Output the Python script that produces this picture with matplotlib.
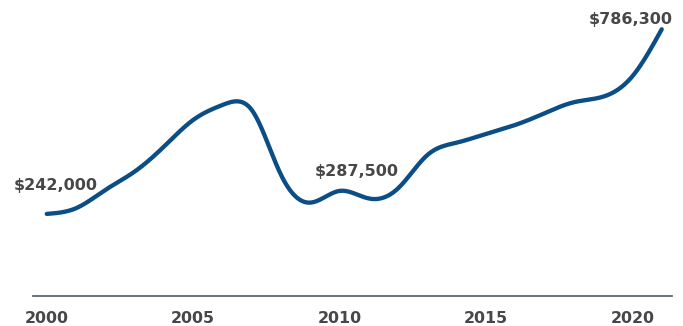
import numpy as np
import matplotlib
matplotlib.use("Agg")
import matplotlib.pyplot as plt

years = [2000, 2001, 2002, 2003, 2004, 2005, 2006, 2006.6, 2007, 2008, 2009,
         2010, 2011, 2012, 2013, 2014, 2015, 2016, 2017, 2018, 2019, 2020, 2021]
values = [242000, 258800, 312700, 366700, 440300, 519000, 563200, 573000, 548500,
          356900, 275300, 309800, 287500, 317700, 415900, 452100, 477800, 504300,
          538800, 571200, 587700, 648000, 786300]
tick_years = [2000, 2005, 2010, 2015, 2020]
annotations = [(2000.3, 242000, "$242,000"), (2010.6, 287500, "$287,500"), (2019.95, 786300, "$786,300")]

LINE = "#0b4d85"
TEXT = "#474747"


def natural_spline(x, y, xs):
    x = np.asarray(x, float)
    y = np.asarray(y, float)
    n = len(x)
    h = np.diff(x)
    A = np.zeros((n, n))
    b = np.zeros(n)
    A[0, 0] = 1
    A[-1, -1] = 1
    for i in range(1, n - 1):
        A[i, i - 1] = h[i - 1]
        A[i, i] = 2 * (h[i - 1] + h[i])
        A[i, i + 1] = h[i]
        b[i] = 6 * ((y[i + 1] - y[i]) / h[i] - (y[i] - y[i - 1]) / h[i - 1])
    M = np.linalg.solve(A, b)
    idx = np.clip(np.searchsorted(x, xs) - 1, 0, n - 2)
    x0, x1 = x[idx], x[idx + 1]
    hh = x1 - x0
    t0 = x1 - xs
    t1 = xs - x0
    return (M[idx] * t0 ** 3 / (6 * hh) + M[idx + 1] * t1 ** 3 / (6 * hh)
            + (y[idx] / hh - M[idx] * hh / 6) * t0
            + (y[idx + 1] / hh - M[idx + 1] * hh / 6) * t1)


fig = plt.figure(figsize=(6.83, 3.26), dpi=100)
ax = fig.add_axes([32.7 / 683, 30 / 326, 639 / 683, 296 / 326])
xs = np.linspace(years[0], years[-1], 600)
ax.plot(xs, natural_spline(years, values, xs), color=LINE, lw=3.1,
        solid_capstyle="round", solid_joinstyle="round")

ax.set_xlim(1999.52, 2021.34)
ax.set_ylim(0, 872600)
for s in ["top", "left", "right"]:
    ax.spines[s].set_visible(False)
ax.spines["bottom"].set_color("#5b6770")
ax.spines["bottom"].set_linewidth(1.3)
ax.set_yticks([])
ax.set_xticks(tick_years)
ax.set_xticklabels([str(t) for t in tick_years])
ax.tick_params(axis="x", length=0, pad=10.5, labelsize=11.4, labelcolor=TEXT)
for lab in ax.get_xticklabels():
    lab.set_fontweight("bold")
    lab.set_family("DejaVu Sans")

offsets = [28, 27, 10]
for (x, y, txt), off in zip(annotations, offsets):
    ax.annotate(txt, (x, y), xytext=(0, off), textcoords="offset pixels",
                ha="center", va="center", fontsize=11.5, fontweight="bold",
                color=TEXT, family="DejaVu Sans")

fig.savefig("out.png", dpi=100)
